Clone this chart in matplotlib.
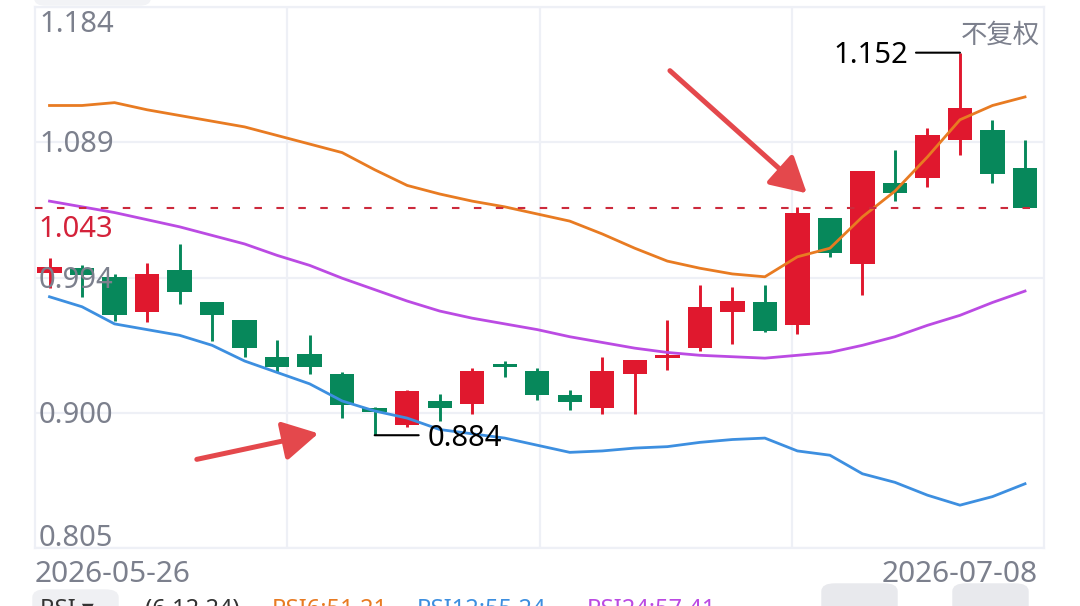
import matplotlib
matplotlib.use('Agg')
import matplotlib.pyplot as plt
from matplotlib.patches import FancyArrowPatch, FancyBboxPatch
from matplotlib.transforms import blended_transform_factory, ScaledTranslation

plt.rcParams['font.family'] = ['Noto Sans', 'Noto Sans CJK SC', 'DejaVu Sans']
plt.rcParams['lines.scale_dashes'] = False

# ---------------- data ----------------
dates = ['2026-05-26', '2026-05-27', '2026-05-28', '2026-05-29',
         '2026-06-01', '2026-06-02', '2026-06-03', '2026-06-04', '2026-06-05',
         '2026-06-08', '2026-06-09', '2026-06-10', '2026-06-11', '2026-06-12',
         '2026-06-15', '2026-06-16', '2026-06-17', '2026-06-18',
         '2026-06-22', '2026-06-23', '2026-06-24', '2026-06-25', '2026-06-26',
         '2026-06-29', '2026-06-30', '2026-07-01', '2026-07-02', '2026-07-03',
         '2026-07-06', '2026-07-07', '2026-07-08']
opens = [0.998, 1.001, 0.995, 0.970, 1.000, 0.977, 0.965, 0.939, 0.941, 0.927,
         0.903, 0.891, 0.908, 0.906, 0.934, 0.929, 0.912, 0.903, 0.927, 0.938,
         0.945, 0.970, 0.977, 0.961, 1.036, 1.004, 1.061, 1.064, 1.091, 1.098, 1.071]
highs = [1.008, 1.003, 0.997, 1.005, 1.018, 0.977, 0.965, 0.951, 0.954, 0.928,
         0.904, 0.916, 0.913, 0.931, 0.936, 0.931, 0.916, 0.939, 0.937, 0.965,
         0.989, 0.988, 0.989, 1.044, 1.036, 1.069, 1.084, 1.099, 1.152, 1.105, 1.091]
lows = [0.987, 0.981, 0.964, 0.963, 0.976, 0.950, 0.939, 0.928, 0.927, 0.896,
        0.884, 0.890, 0.894, 0.899, 0.925, 0.909, 0.902, 0.899, 0.899, 0.930,
        0.943, 0.948, 0.956, 0.955, 1.009, 0.982, 1.048, 1.058, 1.080, 1.061, 1.043]
closes = [1.002, 0.996, 0.968, 0.997, 0.984, 0.968, 0.945, 0.932, 0.932, 0.905,
          0.900, 0.915, 0.903, 0.929, 0.932, 0.912, 0.907, 0.929, 0.937, 0.940,
          0.974, 0.978, 0.957, 1.040, 1.012, 1.069, 1.054, 1.094, 1.113, 1.067, 1.043]
band_upper = [1.115, 1.115, 1.117, 1.112, 1.108, 1.104, 1.100, 1.094, 1.088, 1.082,
              1.070, 1.059, 1.053, 1.048, 1.044, 1.039, 1.034, 1.025, 1.015, 1.006,
              1.001, 0.997, 0.995, 1.009, 1.015, 1.037, 1.055, 1.079, 1.105, 1.115, 1.121]
band_mid = [1.048, 1.044, 1.040, 1.035, 1.030, 1.024, 1.018, 1.010, 1.003, 0.994,
            0.986, 0.978, 0.971, 0.966, 0.962, 0.958, 0.953, 0.949, 0.945, 0.942,
            0.940, 0.939, 0.938, 0.940, 0.942, 0.947, 0.953, 0.961, 0.968, 0.977, 0.985]
band_lower = [0.981, 0.974, 0.962, 0.958, 0.954, 0.947, 0.936, 0.928, 0.920, 0.908,
              0.901, 0.896, 0.888, 0.885, 0.882, 0.877, 0.872, 0.873, 0.875, 0.876,
              0.879, 0.881, 0.882, 0.873, 0.870, 0.857, 0.851, 0.842, 0.835, 0.841, 0.850]
y_ticks = [1.184, 1.08925, 0.9945, 0.89975, 0.805]
y_tick_labels = ['1.184', '1.089', '0.994', '0.900', '0.805']
last_price = 1.043
max_high = 1.152
min_low = 0.884
indicator_name = 'RSI'
indicator_params = '(6,12,24)'
indicator_values = ['RSI6:51.21', 'RSI12:55.24', 'RSI24:57.41']

# ---------------- style ----------------
RED = '#e0182e'
GREEN = '#07885b'
ORANGE = '#e87b22'
PURPLE = '#bb4be3'
BLUE = '#3d8fe0'
GRAY_TXT = '#7c808d'
GRID = '#eef0f6'
ARROW = '#e4484c'

W, H = 1080, 606
fig = plt.figure(figsize=(W / 100, H / 100), dpi=100)
fig.patch.set_facecolor('white')
ax = fig.add_axes([35 / W, (H - 548) / H, 1009 / W, 541 / H])
ax.set_facecolor('white')

n = len(opens)
xs = list(range(n))
x_lo, x_hi = -0.446, n - 1 + 0.584
ax.set_xlim(x_lo, x_hi)
ax.set_ylim(min(y_ticks), max(y_ticks))

# grid
for yv in y_ticks:
    ax.axhline(yv, color=GRID, lw=1.6, zorder=0)
for k in range(1, 4):
    ax.axvline(x_lo + k * (x_hi - x_lo) / 4, color=GRID, lw=1.6, zorder=0)
for s in ax.spines.values():
    s.set_color(GRID)
    s.set_linewidth(1.6)
ax.set_xticks([])
ax.set_yticks([])

# candles
body_w = 0.75
for i in xs:
    o, h, l, c = opens[i], highs[i], lows[i], closes[i]
    col = RED if c >= o else GREEN
    ax.vlines(i, l, h, color=col, lw=2.1, zorder=2)
    bottom = min(o, c)
    height = max(abs(c - o), 0.0012)
    ax.bar(i, height, bottom=bottom, width=body_w, color=col, lw=0, zorder=3)

# bands
ax.plot(xs, band_upper, color=ORANGE, lw=2.0, zorder=4, solid_joinstyle='round')
ax.plot(xs, band_mid, color=PURPLE, lw=2.0, zorder=4, solid_joinstyle='round')
ax.plot(xs, band_lower, color=BLUE, lw=2.0, zorder=4, solid_joinstyle='round')

# last price dashed line
ax.axhline(last_price, color='#cc2a3c', lw=1.5, linestyle=(0, (5.4, 10.4)), zorder=5)


def off(dx_px, dy_px, base=None):
    base = base if base is not None else ax.transData
    return base + ScaledTranslation(dx_px / 100, dy_px / 100, fig.dpi_scale_trans)


axy = blended_transform_factory(ax.transAxes, ax.transData)
FS = 21

# y tick labels
for yv, lab in zip(y_ticks, y_tick_labels):
    if yv == max(y_ticks):
        dy = -25
    elif yv == min(y_ticks):
        dy = 2
    else:
        dy = -10
    ax.text(0, yv, lab, transform=off(4, dy, axy), ha='left', va='baseline',
            fontsize=FS, color=GRAY_TXT, zorder=6)

ax.text(0, last_price, f'{last_price:.3f}', transform=off(3, -29, axy), ha='left',
        va='baseline', fontsize=FS, color='#d4223a', zorder=6)

# high / low annotations
i_hi = highs.index(max(highs))
i_lo = lows.index(min(lows))
ax.annotate('', xy=(i_hi, max_high), xytext=(-44, 0), textcoords='offset pixels',
            arrowprops=dict(arrowstyle='-', color='black', lw=1.5, shrinkA=0, shrinkB=0))
ax.text(i_hi, max_high, f'{max_high:.3f}', transform=off(-52, -10), ha='right',
        va='baseline', fontsize=FS, color='black', zorder=6)
ax.annotate('', xy=(i_lo, min_low), xytext=(44, 0), textcoords='offset pixels',
            arrowprops=dict(arrowstyle='-', color='black', lw=1.5, shrinkA=0, shrinkB=0))
ax.text(i_lo, min_low, f'{min_low:.3f}', transform=off(53, -11), ha='left',
        va='baseline', fontsize=FS, color='black', zorder=6)

# right-top label
ax.text(1, 1, '不复权', transform=off(-4, -36, ax.transAxes), ha='right', va='baseline',
        fontsize=19, color=GRAY_TXT, family=['Noto Sans CJK SC'], zorder=6)

# date labels
ax.text(0, 0, dates[0], transform=off(0, -34, ax.transAxes), ha='left', va='baseline',
        fontsize=21.5, color=GRAY_TXT, clip_on=False)
ax.text(1, 0, dates[-1], transform=off(-6, -34, ax.transAxes), ha='right', va='baseline',
        fontsize=21.5, color=GRAY_TXT, clip_on=False)

# red annotation arrows
for (x0, y0), (x1, y1) in [((4.53, 0.8671), (8.27, 0.8853)), ((19.08, 1.1394), (23.29, 1.0535))]:
    arr = FancyArrowPatch((x0, y0), (x1, y1), arrowstyle='-|>,head_length=0.9,head_width=0.5',
                          mutation_scale=24, color=ARROW, lw=3.6, shrinkA=0, shrinkB=0, zorder=7)
    ax.add_patch(arr)

# top-left rounded chip
fig.patches.append(FancyBboxPatch((35 / W, (H - 5) / H), 115 / W, 20 / H,
                                  boxstyle='round,pad=0,rounding_size=0.01',
                                  transform=fig.transFigure, color='#f2f3f6', zorder=0))
# bottom indicator bar
fig.patches.append(FancyBboxPatch((33 / W, -20 / H), 85 / W, (H - 590 + 20) / H,
                                  boxstyle='round,pad=0,rounding_size=0.012',
                                  transform=fig.transFigure, color='#eff0f3', zorder=0))
for bx in (822, 953):
    fig.patches.append(FancyBboxPatch((bx / W, -20 / H), 75 / W, (H - 584 + 20) / H,
                                      boxstyle='round,pad=0,rounding_size=0.012',
                                      transform=fig.transFigure, color='#e8e9ed', zorder=0))

LFS = 17
by = (H - 616) / H
fig.text(40 / W, by, indicator_name + ' ▾', fontsize=LFS, color='#333333', ha='left', va='baseline')
fig.text(145 / W, by, indicator_params, fontsize=LFS, color='#333333', ha='left', va='baseline')
for xpx, txt, col in zip((272, 417, 587), indicator_values, (ORANGE, BLUE, PURPLE)):
    fig.text(xpx / W, by, txt, fontsize=LFS, color=col, ha='left', va='baseline')

fig.savefig('out.png', dpi=100, facecolor='white')
